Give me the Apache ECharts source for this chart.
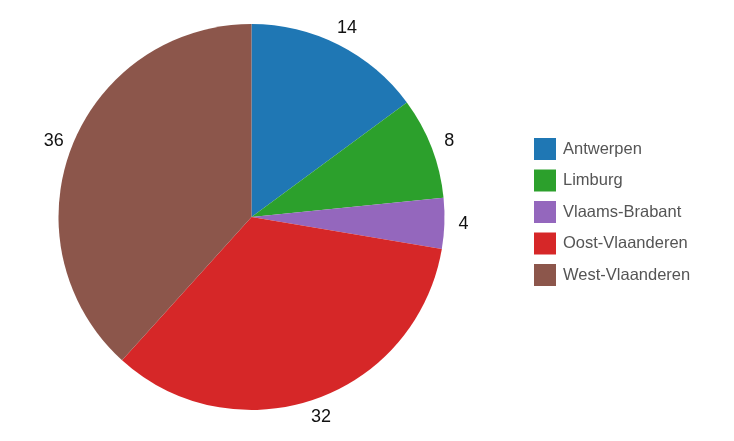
<!DOCTYPE html>
<html>
<head>
<meta charset="utf-8">
<script src="https://cdn.jsdelivr.net/npm/echarts@6/dist/echarts.min.js"></script>
<style>html,body{margin:0;padding:0;background:#fff}#c{width:734px;height:441px}</style>
</head>
<body>
<div id="c"></div>
<script>
var categories = ["Antwerpen", "Limburg", "Vlaams-Brabant", "Oost-Vlaanderen", "West-Vlaanderen"];
var values = [14, 8, 4, 32, 36];
var colors = ["#1f77b4", "#2ca02c", "#9467bd", "#d62728", "#8c564b"];

var pieData = categories.map(function (c, i) { return { name: c, value: values[i] }; });

var chart = echarts.init(document.getElementById('c'));
chart.setOption({
  animation: false,
  color: colors,
  legend: {
    orient: 'vertical',
    left: 529,
    top: 133,
    itemWidth: 22,
    itemHeight: 22,
    itemGap: 9.5,
    icon: 'rect',
    textStyle: { fontFamily: 'Liberation Sans, Arial, sans-serif', fontSize: 16.5, color: '#555', padding: [0, 0, 0, 2] },
    data: categories
  },
  series: [{
    type: 'pie',
    center: [251.5, 217],
    radius: [0, 193],
    startAngle: 90,
    clockwise: true,
    data: pieData,
    label: { show: false },
    labelLine: { show: false },
    emphasis: { disabled: true }
  }, {
    type: 'pie',
    center: [251.5, 217],
    radius: [193, 225],
    startAngle: 90,
    clockwise: true,
    silent: true,
    data: pieData,
    itemStyle: { color: 'rgba(0,0,0,0)' },
    label: {
      show: true,
      position: 'inside',
      formatter: '{c}',
      fontFamily: 'Liberation Sans, Arial, sans-serif',
      fontSize: 18,
      color: '#111'
    },
    labelLine: { show: false },
    emphasis: { disabled: true }
  }]
});
</script>
</body>
</html>
